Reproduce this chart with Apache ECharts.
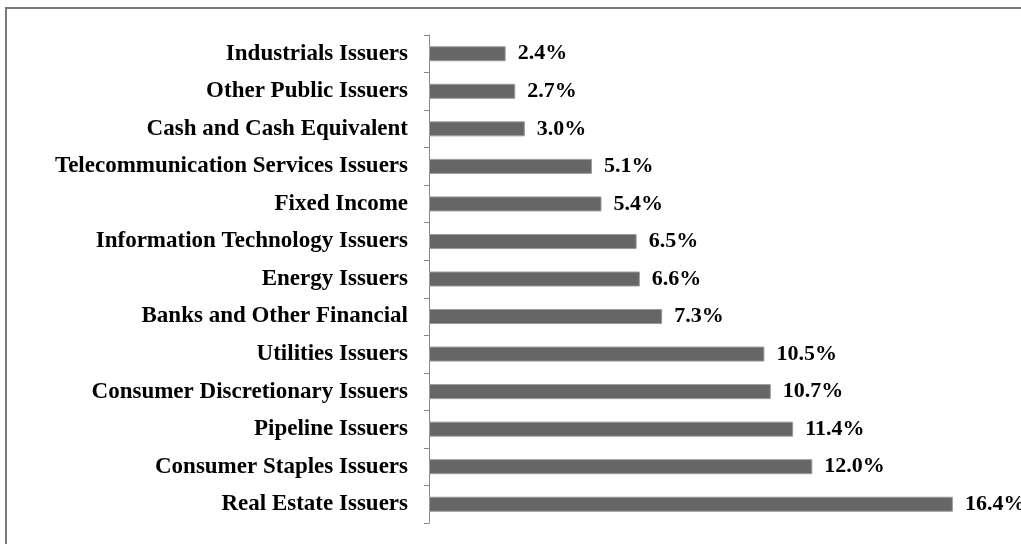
<!DOCTYPE html>
<html>
<head>
<meta charset="utf-8">
<script src="https://cdn.jsdelivr.net/npm/echarts@6/dist/echarts.min.js"></script>
<style>
html,body{margin:0;padding:0;background:#fff;}
#main{width:1021px;height:544px;}
</style>
</head>
<body>
<div id="main"></div>
<script>
const categories = [
  "Industrials Issuers",
  "Other Public Issuers",
  "Cash and Cash Equivalent",
  "Telecommunication Services Issuers",
  "Fixed Income",
  "Information Technology Issuers",
  "Energy Issuers",
  "Banks and Other Financial",
  "Utilities Issuers",
  "Consumer Discretionary Issuers",
  "Pipeline Issuers",
  "Consumer Staples Issuers",
  "Real Estate Issuers"
];
const weights = [2.4, 2.7, 3.0, 5.1, 5.4, 6.5, 6.6, 7.3, 10.5, 10.7, 11.4, 12.0, 16.4];

const chart = echarts.init(document.getElementById('main'));
const FONT = '"Liberation Serif", "Times New Roman", serif';
chart.setOption({
  animation: false,
  backgroundColor: '#fff',
  graphic: [{
    type: 'rect',
    shape: { x: 6, y: 8, width: 1100, height: 700 },
    style: { fill: 'none', stroke: '#7a7a7a', lineWidth: 2 },
    silent: true
  }],
  grid: { left: 429, top: 35, width: 575, height: 488, containLabel: false },
  xAxis: {
    type: 'value', min: 0, max: 18,
    show: false
  },
  yAxis: {
    type: 'category',
    data: categories,
    inverse: true,
    axisLine: { show: true, lineStyle: { color: '#888', width: 1 } },
    axisTick: { show: true, length: 5, lineStyle: { color: '#888' } },
    axisLabel: {
      margin: 21,
      color: '#000',
      fontFamily: FONT,
      fontWeight: 'bold',
      fontSize: 23
    },
    splitLine: { show: false }
  },
  series: [{
    type: 'bar',
    data: weights,
    barWidth: 15,
    itemStyle: { color: '#666666', borderColor: '#9a9a9a', borderWidth: 1 },
    label: {
      show: true,
      position: 'right',
      distance: 12,
      color: '#000',
      fontFamily: FONT,
      fontWeight: 'bold',
      fontSize: 22,
      formatter: p => p.value.toFixed(1) + '%'
    }
  }]
});
</script>
</body>
</html>
